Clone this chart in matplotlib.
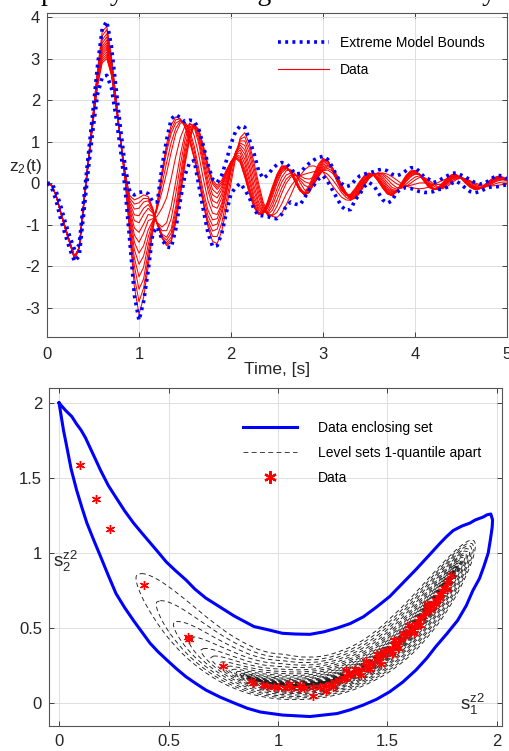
import numpy as np
import matplotlib
matplotlib.use('Agg')
import matplotlib.pyplot as plt
from matplotlib.lines import Line2D

plt.rcParams['font.family'] = ['Liberation Sans', 'DejaVu Sans']
plt.rcParams['axes.unicode_minus'] = False
plt.rcParams['mathtext.fontset'] = 'custom'
plt.rcParams['mathtext.rm'] = 'Liberation Sans'
plt.rcParams['mathtext.it'] = 'Liberation Sans'

# ---------------- top panel data (time grid 0..5 s, step 0.05) ----------------
TIME = np.round(np.arange(101) * 0.05, 2)

TRAJ_01 = [0, -0.05, -0.30, -0.70, -1.07, -1.42, -1.76, -1.55, -0.50, 0.50,
           1.45, 2.35, 2.90, 3.00, 2.60, 1.85, 1.00, 0.25, -0.30, -0.40,
           -0.35, -0.28, -0.32, -0.60, -0.98, -1.32, -1.50, -1.42, -0.95, -0.30,
           0.45, 1.05, 1.40, 1.30, 0.90, 0.45, 0.08, -0.05, 0.08, 0.32,
           0.52, 0.60, 0.50, 0.15, -0.25, -0.58, -0.75, -0.70, -0.42, -0.08,
           0.22, 0.42, 0.42, 0.25, 0.02, -0.18, -0.22, -0.05, 0.22, 0.46,
           0.60, 0.55, 0.32, 0.05, -0.17, -0.28, -0.26, -0.12, 0.05, 0.19,
           0.25, 0.20, 0.05, -0.12, -0.26, -0.30, -0.20, 0.00, 0.18, 0.30,
           0.31, 0.20, 0.04, -0.10, -0.15, -0.10, 0.01, 0.13, 0.21, 0.21,
           0.12, 0.00, -0.10, -0.15, -0.13, -0.05, 0.05, 0.13, 0.17, 0.15,
           0.10]
TRAJ_02 = [0, -0.05, -0.30, -0.70, -1.07, -1.42, -1.76, -1.55, -0.50, 0.51,
           1.47, 2.38, 2.95, 3.05, 2.62, 1.86, 1.00, 0.24, -0.36, -0.50,
           -0.47, -0.36, -0.37, -0.62, -0.99, -1.31, -1.47, -1.37, -0.88, -0.20,
           0.54, 1.11, 1.41, 1.28, 0.86, 0.40, 0.03, -0.10, 0.03, 0.30,
           0.52, 0.62, 0.53, 0.18, -0.22, -0.56, -0.75, -0.71, -0.45, -0.11,
           0.20, 0.40, 0.41, 0.25, 0.02, -0.18, -0.25, -0.10, 0.17, 0.42,
           0.58, 0.55, 0.34, 0.07, -0.16, -0.28, -0.28, -0.15, 0.02, 0.17,
           0.24, 0.20, 0.05, -0.11, -0.25, -0.29, -0.20, -0.01, 0.17, 0.28,
           0.30, 0.20, 0.05, -0.09, -0.15, -0.11, 0.00, 0.12, 0.20, 0.20,
           0.12, 0.01, -0.09, -0.15, -0.13, -0.05, 0.04, 0.12, 0.16, 0.15,
           0.10]
TRAJ_03 = [0, -0.05, -0.30, -0.70, -1.08, -1.43, -1.77, -1.55, -0.50, 0.52,
           1.50, 2.42, 3.00, 3.10, 2.65, 1.88, 1.00, 0.22, -0.42, -0.62,
           -0.60, -0.45, -0.42, -0.65, -1.00, -1.30, -1.43, -1.30, -0.80, -0.10,
           0.62, 1.17, 1.42, 1.25, 0.82, 0.35, -0.02, -0.15, -0.02, 0.28,
           0.52, 0.64, 0.55, 0.22, -0.20, -0.55, -0.74, -0.72, -0.48, -0.15,
           0.17, 0.37, 0.40, 0.26, 0.03, -0.18, -0.27, -0.15, 0.12, 0.38,
           0.55, 0.55, 0.36, 0.10, -0.14, -0.28, -0.29, -0.17, 0.00, 0.15,
           0.22, 0.19, 0.06, -0.10, -0.23, -0.28, -0.20, -0.02, 0.15, 0.27,
           0.29, 0.21, 0.06, -0.08, -0.15, -0.12, -0.02, 0.10, 0.18, 0.20,
           0.13, 0.02, -0.08, -0.14, -0.13, -0.06, 0.03, 0.11, 0.15, 0.14,
           0.10]
TRAJ_04 = [0, -0.05, -0.30, -0.70, -1.08, -1.43, -1.77, -1.55, -0.49, 0.53,
           1.52, 2.46, 3.05, 3.16, 2.68, 1.89, 1.00, 0.20, -0.48, -0.76,
           -0.78, -0.60, -0.51, -0.68, -0.99, -1.26, -1.37, -1.20, -0.68, 0.05,
           0.75, 1.26, 1.43, 1.19, 0.71, 0.22, -0.15, -0.25, -0.08, 0.24,
           0.52, 0.67, 0.60, 0.28, -0.14, -0.51, -0.72, -0.72, -0.50, -0.18,
           0.15, 0.35, 0.39, 0.27, 0.04, -0.17, -0.28, -0.19, 0.08, 0.34,
           0.52, 0.54, 0.37, 0.12, -0.12, -0.28, -0.31, -0.20, -0.02, 0.13,
           0.21, 0.20, 0.08, -0.08, -0.21, -0.27, -0.20, -0.04, 0.14, 0.26,
           0.29, 0.22, 0.07, -0.07, -0.15, -0.13, -0.04, 0.09, 0.17, 0.19,
           0.14, 0.03, -0.07, -0.13, -0.13, -0.07, 0.02, 0.10, 0.14, 0.14,
           0.10]
TRAJ_05 = [0, -0.05, -0.30, -0.71, -1.09, -1.44, -1.78, -1.55, -0.48, 0.55,
           1.55, 2.50, 3.10, 3.22, 2.72, 1.90, 1.00, 0.18, -0.55, -0.90,
           -0.95, -0.75, -0.60, -0.72, -0.98, -1.22, -1.30, -1.10, -0.55, 0.20,
           0.88, 1.35, 1.42, 1.12, 0.60, 0.08, -0.28, -0.35, -0.15, 0.20,
           0.52, 0.70, 0.65, 0.35, -0.08, -0.47, -0.70, -0.72, -0.52, -0.20,
           0.12, 0.33, 0.38, 0.27, 0.05, -0.17, -0.29, -0.22, 0.03, 0.30,
           0.48, 0.52, 0.38, 0.14, -0.10, -0.27, -0.32, -0.22, -0.05, 0.10,
           0.19, 0.20, 0.10, -0.06, -0.19, -0.25, -0.20, -0.05, 0.12, 0.24,
           0.28, 0.22, 0.08, -0.06, -0.14, -0.14, -0.05, 0.07, 0.16, 0.18,
           0.14, 0.04, -0.06, -0.12, -0.13, -0.08, 0.01, 0.09, 0.13, 0.13,
           0.10]
TRAJ_06 = [0, -0.05, -0.30, -0.71, -1.09, -1.44, -1.78, -1.55, -0.48, 0.55,
           1.56, 2.52, 3.15, 3.27, 2.76, 1.92, 1.01, 0.17, -0.62, -1.08,
           -1.18, -0.98, -0.75, -0.78, -0.96, -1.14, -1.14, -0.85, -0.25, 0.45,
           1.05, 1.42, 1.40, 1.05, 0.50, -0.05, -0.42, -0.48, -0.25, 0.12,
           0.48, 0.71, 0.73, 0.47, 0.04, -0.39, -0.65, -0.71, -0.56, -0.26,
           0.06, 0.29, 0.37, 0.29, 0.09, -0.13, -0.27, -0.22, 0.00, 0.26,
           0.44, 0.49, 0.38, 0.16, -0.08, -0.26, -0.33, -0.25, -0.08, 0.08,
           0.19, 0.21, 0.13, -0.03, -0.16, -0.23, -0.19, -0.05, 0.10, 0.22,
           0.27, 0.22, 0.09, -0.05, -0.14, -0.15, -0.07, 0.05, 0.14, 0.18,
           0.14, 0.05, -0.05, -0.11, -0.13, -0.09, 0.00, 0.08, 0.12, 0.13,
           0.10]
TRAJ_07 = [0, -0.05, -0.30, -0.71, -1.09, -1.44, -1.79, -1.55, -0.48, 0.56,
           1.57, 2.55, 3.20, 3.32, 2.80, 1.95, 1.02, 0.15, -0.70, -1.25,
           -1.42, -1.20, -0.90, -0.85, -0.95, -1.05, -0.95, -0.55, 0.05, 0.70,
           1.20, 1.45, 1.35, 0.95, 0.38, -0.18, -0.55, -0.60, -0.35, 0.05,
           0.45, 0.72, 0.80, 0.58, 0.15, -0.30, -0.60, -0.70, -0.60, -0.32,
           0.00, 0.25, 0.35, 0.30, 0.12, -0.10, -0.24, -0.22, -0.02, 0.22,
           0.40, 0.45, 0.38, 0.18, -0.05, -0.24, -0.34, -0.28, -0.10, 0.07,
           0.18, 0.22, 0.15, 0.00, -0.14, -0.20, -0.18, -0.06, 0.08, 0.20,
           0.25, 0.22, 0.10, -0.04, -0.13, -0.15, -0.08, 0.04, 0.13, 0.17,
           0.14, 0.06, -0.04, -0.10, -0.12, -0.09, -0.01, 0.07, 0.11, 0.12,
           0.09]
TRAJ_08 = [0, -0.05, -0.30, -0.71, -1.10, -1.45, -1.80, -1.55, -0.47, 0.57,
           1.59, 2.58, 3.25, 3.38, 2.85, 1.98, 1.02, 0.13, -0.78, -1.42,
           -1.68, -1.50, -1.12, -0.90, -0.78, -0.60, -0.35, 0.12, 0.65, 1.10,
           1.38, 1.40, 1.15, 0.68, 0.10, -0.42, -0.72, -0.75, -0.48, -0.04,
           0.42, 0.74, 0.86, 0.70, 0.30, -0.17, -0.53, -0.70, -0.67, -0.45,
           -0.13, 0.14, 0.30, 0.33, 0.22, 0.02, -0.16, -0.18, -0.03, 0.18,
           0.36, 0.43, 0.37, 0.19, -0.04, -0.23, -0.35, -0.31, -0.14, 0.05,
           0.17, 0.23, 0.19, 0.05, -0.10, -0.18, -0.18, -0.08, 0.05, 0.17,
           0.23, 0.21, 0.11, -0.02, -0.12, -0.15, -0.10, 0.02, 0.11, 0.16,
           0.15, 0.07, -0.03, -0.10, -0.12, -0.10, -0.02, 0.06, 0.10, 0.11,
           0.09]
TRAJ_09 = [0, -0.05, -0.30, -0.71, -1.10, -1.45, -1.80, -1.55, -0.47, 0.57,
           1.60, 2.60, 3.30, 3.45, 2.90, 2.00, 1.02, 0.12, -0.85, -1.60,
           -1.95, -1.75, -1.30, -0.92, -0.60, -0.20, 0.25, 0.75, 1.20, 1.45,
           1.48, 1.28, 0.90, 0.35, -0.20, -0.65, -0.88, -0.85, -0.55, -0.10,
           0.38, 0.75, 0.92, 0.80, 0.42, -0.05, -0.45, -0.68, -0.72, -0.55,
           -0.25, 0.02, 0.20, 0.25, 0.20, 0.08, -0.05, -0.10, -0.02, 0.15,
           0.33, 0.40, 0.36, 0.20, -0.02, -0.22, -0.35, -0.33, -0.18, 0.02,
           0.16, 0.24, 0.22, 0.10, -0.05, -0.15, -0.17, -0.10, 0.03, 0.15,
           0.22, 0.21, 0.12, 0.00, -0.11, -0.15, -0.11, 0.00, 0.10, 0.16,
           0.15, 0.08, -0.02, -0.09, -0.12, -0.10, -0.03, 0.05, 0.10, 0.11,
           0.08]
TRAJ_10 = [0, -0.05, -0.30, -0.72, -1.10, -1.45, -1.81, -1.55, -0.46, 0.58,
           1.61, 2.64, 3.38, 3.52, 2.95, 2.02, 1.02, 0.10, -0.95, -1.80,
           -2.25, -2.02, -1.48, -0.98, -0.55, -0.02, 0.50, 0.98, 1.33, 1.50,
           1.45, 1.20, 0.78, 0.22, -0.33, -0.78, -1.02, -0.98, -0.65, -0.18,
           0.34, 0.75, 0.97, 0.91, 0.57, 0.10, -0.33, -0.63, -0.75, -0.65,
           -0.40, -0.12, 0.10, 0.20, 0.20, 0.13, 0.04, 0.00, 0.06, 0.18,
           0.31, 0.36, 0.30, 0.15, -0.06, -0.25, -0.37, -0.35, -0.21, -0.02,
           0.14, 0.23, 0.24, 0.15, 0.02, -0.10, -0.14, -0.11, -0.03, 0.07,
           0.15, 0.18, 0.13, 0.04, -0.06, -0.12, -0.13, -0.04, 0.06, 0.13,
           0.14, 0.10, 0.01, -0.07, -0.11, -0.10, -0.05, 0.03, 0.08, 0.10,
           0.08]
TRAJ_11 = [0, -0.05, -0.30, -0.72, -1.10, -1.45, -1.82, -1.55, -0.46, 0.58,
           1.62, 2.68, 3.45, 3.60, 3.00, 2.03, 1.02, 0.08, -1.05, -2.00,
           -2.55, -2.30, -1.65, -1.05, -0.50, 0.15, 0.75, 1.20, 1.45, 1.52,
           1.40, 1.10, 0.65, 0.10, -0.45, -0.90, -1.15, -1.10, -0.75, -0.25,
           0.30, 0.75, 1.02, 1.02, 0.72, 0.25, -0.22, -0.58, -0.78, -0.75,
           -0.55, -0.25, 0.00, 0.15, 0.20, 0.18, 0.12, 0.10, 0.15, 0.22,
           0.30, 0.32, 0.25, 0.10, -0.10, -0.28, -0.38, -0.36, -0.24, -0.05,
           0.12, 0.22, 0.25, 0.20, 0.10, -0.02, -0.10, -0.12, -0.08, 0.00,
           0.08, 0.14, 0.14, 0.08, -0.01, -0.09, -0.12, -0.08, 0.01, 0.09,
           0.13, 0.11, 0.04, -0.04, -0.09, -0.10, -0.06, 0.01, 0.06, 0.08,
           0.07]
TRAJ_12 = [0, -0.05, -0.30, -0.72, -1.10, -1.46, -1.83, -1.56, -0.45, 0.59,
           1.64, 2.72, 3.55, 3.70, 3.03, 2.04, 1.01, 0.06, -1.15, -2.25,
           -2.85, -2.52, -1.82, -1.10, -0.48, 0.22, 0.85, 1.30, 1.53, 1.55,
           1.38, 1.05, 0.62, 0.10, -0.48, -0.98, -1.28, -1.28, -0.95, -0.42,
           0.15, 0.68, 1.06, 1.12, 0.84, 0.38, -0.11, -0.52, -0.75, -0.78,
           -0.70, -0.50, -0.26, -0.07, 0.08, 0.18, 0.22, 0.25, 0.28, 0.30,
           0.28, 0.22, 0.10, -0.05, -0.22, -0.34, -0.40, -0.35, -0.21, -0.03,
           0.12, 0.21, 0.25, 0.23, 0.16, 0.07, -0.01, -0.06, -0.07, -0.05,
           -0.02, 0.01, 0.01, -0.01, -0.03, -0.03, -0.02, 0.02, 0.07, 0.11,
           0.13, 0.11, 0.05, -0.02, -0.06, -0.08, -0.06, -0.03, 0.01, 0.03,
           0.03]
TRAJ_13 = [0, -0.05, -0.30, -0.72, -1.10, -1.46, -1.84, -1.56, -0.45, 0.60,
           1.65, 2.75, 3.65, 3.78, 3.05, 2.05, 1.00, 0.05, -1.25, -2.50,
           -3.15, -2.75, -2.00, -1.15, -0.45, 0.30, 0.95, 1.40, 1.60, 1.55,
           1.35, 1.00, 0.60, 0.10, -0.50, -1.05, -1.40, -1.45, -1.15, -0.60,
           0.00, 0.60, 1.10, 1.22, 0.95, 0.50, 0.00, -0.45, -0.72, -0.80,
           -0.82, -0.72, -0.52, -0.28, -0.03, 0.18, 0.33, 0.41, 0.42, 0.37,
           0.27, 0.12, -0.05, -0.20, -0.33, -0.40, -0.41, -0.33, -0.18, -0.02,
           0.12, 0.20, 0.24, 0.25, 0.22, 0.16, 0.08, 0.00, -0.06, -0.10,
           -0.12, -0.13, -0.12, -0.09, -0.04, 0.02, 0.07, 0.11, 0.13, 0.13,
           0.12, 0.10, 0.06, 0.01, -0.03, -0.05, -0.06, -0.06, -0.05, -0.03,
           -0.02]
TRAJECTORIES = [TRAJ_01, TRAJ_02, TRAJ_03, TRAJ_04, TRAJ_05, TRAJ_06, TRAJ_07,
                TRAJ_08, TRAJ_09, TRAJ_10, TRAJ_11, TRAJ_12, TRAJ_13]

UPPER_BOUND = [0.00, 0.00, -0.20, -0.55, -0.95, -1.30, -1.60, -1.48, -0.38, 0.70,
               1.75, 2.85, 3.72, 3.90, 3.30, 2.30, 1.30, 0.40, -0.20, -0.28,
               -0.22, -0.20, -0.25, -0.45, -0.45, 0.40, 1.05, 1.55, 1.65, 1.58,
               1.48, 1.52, 1.50, 1.30, 0.90, 0.45, 0.10, 0.02, 0.20, 0.55,
               0.95, 1.25, 1.38, 1.35, 1.05, 0.72, 0.30, 0.12, 0.20, 0.35,
               0.45, 0.50, 0.48, 0.36, 0.22, 0.24, 0.38, 0.48, 0.56, 0.62,
               0.65, 0.58, 0.40, 0.18, 0.00, -0.08, -0.05, 0.08, 0.18, 0.22,
               0.25, 0.28, 0.32, 0.34, 0.30, 0.22, 0.18, 0.22, 0.30, 0.37,
               0.38, 0.28, 0.15, 0.10, 0.02, 0.05, 0.12, 0.18, 0.24, 0.25,
               0.20, 0.15, 0.08, 0.02, -0.02, 0.00, 0.06, 0.14, 0.19, 0.18,
               0.10]
LOWER_BOUND = [0.00, -0.10, -0.42, -0.88, -1.25, -1.60, -1.88, -1.75, -0.70, 0.35,
               1.30, 2.15, 2.55, 2.60, 2.30, 1.60, 0.80, -0.15, -1.40, -2.70,
               -3.30, -2.85, -2.10, -1.20, -1.05, -1.35, -1.53, -1.55, -1.10, -0.40,
               0.20, 0.50, 0.55, -0.05, -0.65, -1.20, -1.52, -1.50, -1.20, -0.70,
               -0.25, -0.10, 0.00, -0.15, -0.35, -0.62, -0.78, -0.78, -0.80, -0.85,
               -0.85, -0.75, -0.55, -0.45, -0.50, -0.52, -0.35, -0.15, -0.05, 0.10,
               0.18, 0.05, -0.15, -0.35, -0.55, -0.65, -0.63, -0.40, -0.26, -0.08,
               0.02, -0.05, -0.22, -0.40, -0.48, -0.42, -0.22, -0.14, -0.10, -0.12,
               -0.16, -0.20, -0.22, -0.22, -0.20, -0.15, -0.14, -0.09, 0.00, 0.05,
               -0.02, -0.12, -0.20, -0.23, -0.20, -0.15, -0.10, -0.08, -0.08, -0.06,
               -0.03]

# ---------------- bottom panel data ----------------
ENCLOSING_X = [0.0, 0.02, 0.035, 0.055, 0.08, 0.105, 0.127, 0.16, 0.19, 0.225,
               0.26, 0.30, 0.34, 0.38, 0.415, 0.45, 0.49, 0.535, 0.58, 0.625,
               0.67, 0.735, 0.80, 0.86, 0.92, 1.02, 1.146, 1.27, 1.33, 1.39,
               1.45, 1.51, 1.57, 1.63, 1.68, 1.72, 1.77, 1.82, 1.86, 1.89,
               1.92, 1.94, 1.96, 1.97, 1.978, 1.98, 1.972,
               1.955, 1.937, 1.90, 1.877, 1.84, 1.80, 1.77, 1.74, 1.69, 1.63,
               1.57, 1.51, 1.45, 1.39, 1.33, 1.27, 1.21, 1.146, 1.08, 1.02,
               0.95, 0.89, 0.80, 0.735, 0.67, 0.62, 0.58, 0.53, 0.49, 0.45,
               0.415, 0.38, 0.34, 0.30, 0.26, 0.225, 0.19, 0.155, 0.12, 0.10,
               0.08, 0.058, 0.03, 0.0]
ENCLOSING_Y = [2.0, 1.82, 1.71, 1.56, 1.42, 1.30, 1.20, 1.08, 0.975, 0.85,
               0.73, 0.635, 0.55, 0.47, 0.40, 0.345, 0.29, 0.23, 0.175, 0.13,
               0.087, 0.04, 0.0, -0.035, -0.06, -0.08, -0.09, -0.07, -0.045, -0.013,
               0.025, 0.075, 0.14, 0.22, 0.30, 0.375, 0.46, 0.55, 0.65, 0.75,
               0.83, 0.91, 1.0, 1.09, 1.17, 1.22, 1.26,
               1.255, 1.24, 1.22, 1.20, 1.18, 1.15, 1.11, 1.065, 0.985, 0.89,
               0.80, 0.71, 0.64, 0.575, 0.53, 0.50, 0.475, 0.458, 0.46, 0.465,
               0.49, 0.51, 0.58, 0.64, 0.70, 0.76, 0.82, 0.885, 0.94, 1.01,
               1.07, 1.13, 1.20, 1.28, 1.37, 1.45, 1.55, 1.66, 1.77, 1.82,
               1.86, 1.91, 1.95, 2.0]

STAR_X = [0.096, 0.167, 0.233, 0.388, 0.59, 0.595, 0.747, 0.875, 0.885,
          0.93, 0.95, 0.98, 1.00, 1.03, 1.06, 1.10, 1.12, 1.16, 1.16, 1.19,
          1.22, 1.24, 1.26, 1.28, 1.30, 1.31, 1.33, 1.35, 1.36, 1.38, 1.40,
          1.41, 1.43, 1.45, 1.46, 1.48, 1.50, 1.51, 1.52, 1.54, 1.55, 1.56,
          1.58, 1.59, 1.60, 1.62, 1.63, 1.64, 1.65, 1.66, 1.67, 1.68, 1.69,
          1.70, 1.71, 1.72, 1.73, 1.74, 1.75, 1.76, 1.77, 1.78, 1.79,
          1.31, 1.45, 1.52, 1.62, 1.70, 1.47, 1.38, 1.22, 1.05, 1.57, 1.68, 1.74,
          1.35, 1.42, 1.48, 1.55, 1.60, 1.65, 1.72, 1.77, 1.25, 1.10, 1.40, 1.53]
STAR_Y = [1.59, 1.36, 1.16, 0.787, 0.44, 0.425, 0.248, 0.145, 0.135,
          0.12, 0.115, 0.11, 0.105, 0.10, 0.10, 0.098, 0.10, 0.105, 0.045, 0.11,
          0.115, 0.13, 0.14, 0.155, 0.165, 0.17, 0.19, 0.20, 0.215, 0.23, 0.245,
          0.25, 0.27, 0.29, 0.30, 0.32, 0.345, 0.355, 0.37, 0.39, 0.41, 0.425,
          0.45, 0.46, 0.48, 0.51, 0.53, 0.55, 0.565, 0.58, 0.60, 0.62, 0.635,
          0.655, 0.67, 0.69, 0.71, 0.73, 0.75, 0.77, 0.80, 0.82, 0.855,
          0.22, 0.33, 0.33, 0.47, 0.62, 0.26, 0.19, 0.08, 0.13, 0.47, 0.66, 0.70,
          0.23, 0.23, 0.35, 0.37, 0.52, 0.52, 0.66, 0.76, 0.11, 0.12, 0.28, 0.42]

# centre line of the nested level sets
LEVEL_SPINE_X = [0.15, 0.25, 0.36, 0.45, 0.55, 0.65, 0.75, 0.85, 0.95, 1.05,
                 1.15, 1.25, 1.35, 1.45, 1.55, 1.65, 1.73, 1.80, 1.86, 1.92, 1.97]
LEVEL_SPINE_Y = [1.40, 1.13, 0.86, 0.68, 0.50, 0.355, 0.25, 0.175, 0.135, 0.12,
                 0.125, 0.15, 0.205, 0.285, 0.40, 0.56, 0.715, 0.87, 1.01, 1.16, 1.30]
N_LEVELS = 26

TICK_COLOR = '#262626'
GRID_COLOR = '#dedede'

fig = plt.figure(figsize=(5.1, 7.51), dpi=100)

# title (cut at the top edge in the original)
fig.text(-5 / 510, 1 - 0.5 / 751, 'Coupled dynamics along the bounds of study',
         ha='left', va='baseline', fontsize=20, family=['Liberation Serif', 'DejaVu Serif'])

# ---------------- top axes ----------------
ax1 = fig.add_axes([47 / 510, 1 - 337 / 751, 460 / 510, 324 / 751])
for tr in TRAJECTORIES:
    ax1.plot(TIME, tr, color='#ff0000', lw=0.75, zorder=2)
dot = (0, (0.8, 1.2))
ax1.plot(TIME, UPPER_BOUND, color='#0000ff', lw=2.6, ls=dot, zorder=3)
ax1.plot(TIME, LOWER_BOUND, color='#0000ff', lw=2.6, ls=dot, zorder=3)
ax1.set_xlim(0, 5)
ax1.set_ylim(-3.7, 4.1)
ax1.set_xticks([0, 1, 2, 3, 4, 5])
ax1.set_yticks([-3, -2, -1, 0, 1, 2, 3, 4])
ax1.set_xlabel('Time, [s]', fontsize=12.5, color=TICK_COLOR)
ax1.xaxis.set_label_coords(0.5, -0.078)
ax1.text(-0.046, 0.525, r'$\mathregular{z_2(t)}$', transform=ax1.transAxes,
         ha='center', va='center', fontsize=12.5, color=TICK_COLOR)
h1 = [Line2D([], [], color='#0000ff', lw=2.6, ls=dot),
      Line2D([], [], color='#ff0000', lw=0.8)]
ax1.legend(h1, ['Extreme Model Bounds', 'Data'], loc='upper left',
           bbox_to_anchor=(278 / 510, 1 - 36 / 751), bbox_transform=fig.transFigure,
           frameon=False, fontsize=10, handlelength=3.7, handletextpad=0.75,
           labelspacing=0.95, borderpad=0, borderaxespad=0)

# ---------------- bottom axes ----------------
ax2 = fig.add_axes([49 / 510, 1 - 726 / 751, 453 / 510, 338 / 751])
ax2.plot(ENCLOSING_X, ENCLOSING_Y, color='#0000ff', lw=2.2, zorder=3)

# nested level sets around the spine
sx = np.array(LEVEL_SPINE_X)
sy = np.array(LEVEL_SPINE_Y)
cum = np.concatenate([[0.0], np.cumsum(np.hypot(np.diff(sx), np.diff(sy)))])
ss = np.linspace(0, cum[-1], 900)
px = np.interp(ss, cum, sx)
py = np.interp(ss, cum, sy)
kern = np.ones(41) / 41
pxs = np.convolve(np.pad(px, 20, mode='reflect', reflect_type='odd'), kern, mode='valid')
pys = np.convolve(np.pad(py, 20, mode='reflect', reflect_type='odd'), kern, mode='valid')
tx = np.gradient(pxs)
ty = np.gradient(pys)
nrm = np.hypot(tx, ty)
nx, ny = -ty / nrm, tx / nrm
w_up_s = np.interp(pxs, [0.3, 1.0, 1.45, 1.9], [0.15, 0.20, 0.14, 0.10])
w_dn_s = np.interp(pxs, [0.3, 1.0, 1.45, 1.9], [0.09, 0.10, 0.10, 0.09])
for lev in range(1, N_LEVELS + 1):
    f = lev / N_LEVELS
    g = f ** 2.8
    xl = 0.87 - 0.51 * f ** 5
    xr = 1.79 + 0.10 * f ** 2
    sl = np.interp(xl, sx, cum)
    sr = np.interp(xr, sx, cum)
    m = (ss >= sl) & (ss <= sr)
    u = (ss[m] - sl) / (sr - sl)
    prof = np.sqrt(np.clip(1 - np.abs(2 * u - 1) ** 3, 0, None))
    wu = w_up_s[m] * g * prof
    wd = w_dn_s[m] * g * prof
    ux = pxs[m] + wu * nx[m]
    uy = pys[m] + wu * ny[m]
    lx = pxs[m] - wd * nx[m]
    ly = pys[m] - wd * ny[m]
    cx = np.concatenate([ux, lx[::-1], ux[:1]])
    cy = np.concatenate([uy, ly[::-1], uy[:1]])
    ax2.plot(cx, cy, color='#1e1e1e', lw=0.65, ls=(0, (5, 3.5)), zorder=2)

ax2.plot(STAR_X, STAR_Y, ls='none', marker=(6, 2, 0), ms=6.5, mew=1.0,
         color='#ff0000', zorder=4)
ax2.set_xlim(-0.046, 2.023)
ax2.set_ylim(-0.153, 2.1)
ax2.set_xticks([0, 0.5, 1, 1.5, 2])
ax2.set_xticklabels(['0', '0.5', '1', '1.5', '2'])
ax2.set_yticks([0, 0.5, 1, 1.5, 2])
ax2.set_yticklabels(['0', '0.5', '1', '1.5', '2'])
ax2.text(-0.027, 0.947, r'$\mathregular{s_2^{z2}}$', ha='left', va='center',
         fontsize=13.5, color=TICK_COLOR, zorder=5)
ax2.text(1.83, -0.01, r'$\mathregular{s_1^{z2}}$', ha='left', va='center',
         fontsize=13.5, color=TICK_COLOR, zorder=5)
h2 = [Line2D([], [], color='#0000ff', lw=2.2),
      Line2D([], [], color='#404040', lw=0.7, ls=(0, (5, 3.5))),
      Line2D([], [], color='#ff0000', marker=(6, 2, 0), ls='none', ms=9, mew=1.6)]
ax2.legend(h2, ['Data enclosing set', 'Level sets 1-quantile apart', 'Data'],
           loc='upper left', bbox_to_anchor=(243 / 510, 1 - 421 / 751),
           bbox_transform=fig.transFigure, frameon=False, fontsize=10,
           handlelength=3.9, handletextpad=1.5, labelspacing=0.8,
           borderpad=0, borderaxespad=0)

for ax in (ax1, ax2):
    ax.grid(True, color=GRID_COLOR, lw=0.7)
    ax.set_axisbelow(True)
    ax.tick_params(direction='in', length=3.5, width=0.6, colors=TICK_COLOR,
                   labelsize=12, top=True, right=True)
    ax.tick_params(axis='y', pad=5)
    for sp in ax.spines.values():
        sp.set_color('#555555')
        sp.set_linewidth(0.8)
ax1.tick_params(axis='x', pad=7)
ax2.tick_params(axis='x', pad=6)

fig.savefig('out.png', dpi=100)
